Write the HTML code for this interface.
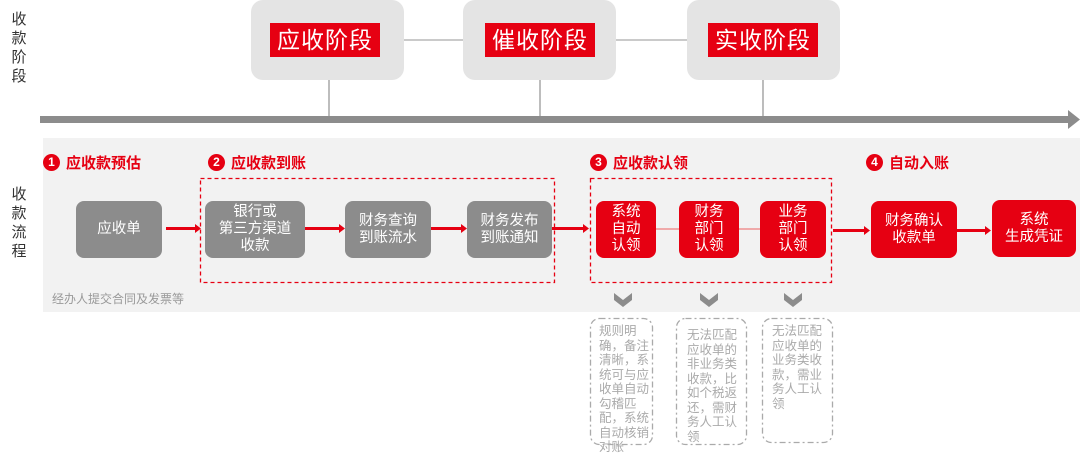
<!DOCTYPE html>
<html><head><meta charset="utf-8"><style>
*{margin:0;padding:0;box-sizing:border-box}
body{width:1080px;height:463px;background:#fff;position:relative;overflow:hidden;font-family:"Liberation Sans","Noto Sans CJK SC",sans-serif}
.a{position:absolute}
.stage{position:absolute;top:0;width:153px;height:80px;background:#e4e4e4;border-radius:12px}
.lab{position:absolute;top:23px;height:34px;width:110px;background:#e60012;color:#fff;font-size:23px;line-height:34px;text-align:center;letter-spacing:1px}
.n{position:absolute;display:flex;align-items:center;justify-content:center;text-align:center;color:#fff;font-size:14.5px;line-height:17px;border-radius:8px}
.g{background:#8c8c8c}
.r{background:#e60012}
.h{position:absolute;color:#e60012;font-weight:bold;font-size:15px;display:flex;align-items:center}
.h b{display:inline-block;width:17px;height:17px;border-radius:50%;background:#e60012;color:#fff;font-size:12px;line-height:17px;text-align:center;margin-right:6px}
.note{position:absolute;color:#aaa;font-size:12.5px;line-height:14.5px;white-space:nowrap}
.v{position:absolute;color:#333;font-size:15px;line-height:19px;width:20px;text-align:center}
</style></head><body>
<div class="a" style="left:43px;top:138px;width:1037px;height:174px;background:#f2f2f2"></div>
<svg class="a" style="left:0;top:0" width="1080" height="463">
<line x1="404" y1="40" x2="463" y2="40" stroke="#aaa" stroke-width="1.3"/>
<line x1="616" y1="40" x2="687" y2="40" stroke="#aaa" stroke-width="1.3"/>
<line x1="329" y1="80" x2="329" y2="116" stroke="#999" stroke-width="1.3"/>
<line x1="540" y1="80" x2="540" y2="116" stroke="#999" stroke-width="1.3"/>
<line x1="763" y1="80" x2="763" y2="116" stroke="#999" stroke-width="1.3"/>
<rect x="40" y="116" width="1032" height="7" fill="#8c8c8c"/>
<polygon points="1068,110 1080,119.5 1068,129" fill="#8c8c8c"/>
<rect x="200.5" y="178.5" width="354" height="104" fill="none" stroke="#e60012" stroke-width="1.3" stroke-dasharray="4,3"/>
<rect x="590.5" y="178.5" width="241" height="104" fill="none" stroke="#e60012" stroke-width="1.3" stroke-dasharray="4,3"/>
<g fill="#e60012">
<rect x="166" y="227" width="30" height="3"/><polygon points="195,224 201,228.5 195,233"/>
<rect x="305" y="227" width="35" height="3"/><polygon points="339,224 345,228.5 339,233"/>
<rect x="431" y="227" width="31" height="3"/><polygon points="461,224 467,228.5 461,233"/>
<rect x="552" y="227" width="32" height="3"/><polygon points="583,224 589,228.5 583,233"/>
<rect x="833" y="229" width="32" height="3"/><polygon points="864,226 870,230.5 864,235"/>
<rect x="957" y="229" width="29" height="3"/><polygon points="985,226 991,230.5 985,235"/>
</g>
<line x1="656" y1="229" x2="679" y2="229" stroke="#f08080" stroke-width="1.3"/>
<line x1="739" y1="229" x2="760" y2="229" stroke="#f08080" stroke-width="1.3"/>
<g fill="#8c8c8c">
<polygon points="614,293 623,300 632,293 632,300 623,307 614,300"/>
<polygon points="700,293 709,300 718,293 718,300 709,307 700,300"/>
<polygon points="784,293 793,300 802,293 802,300 793,307 784,300"/>
</g>
<g fill="none" stroke="#aaa" stroke-width="1.3" stroke-dasharray="6,3,2,3">
<rect x="590.5" y="318.5" width="62" height="126" rx="9"/>
<rect x="676.5" y="318.5" width="70" height="126" rx="9"/>
<rect x="762.5" y="318.5" width="70" height="124" rx="9"/>
</g>
</svg>
<div class="stage" style="left:251px"></div><div class="lab" style="left:270px">应收阶段</div>
<div class="stage" style="left:463px"></div><div class="lab" style="left:485px">催收阶段</div>
<div class="stage" style="left:687px"></div><div class="lab" style="left:708px">实收阶段</div>
<div class="v" style="left:9px;top:10px">收<br>款<br>阶<br>段</div>
<div class="v" style="left:9px;top:185px">收<br>款<br>流<br>程</div>
<div class="h" style="left:43px;top:152px"><b>1</b>应收款预估</div>
<div class="h" style="left:208px;top:152px"><b>2</b>应收款到账</div>
<div class="h" style="left:590px;top:152px"><b>3</b>应收款认领</div>
<div class="h" style="left:866px;top:152px"><b>4</b>自动入账</div>
<div class="n g" style="left:76px;top:201px;width:86px;height:57px">应收单</div>
<div class="n g" style="left:205px;top:201px;width:100px;height:57px">银行或<br>第三方渠道<br>收款</div>
<div class="n g" style="left:345px;top:201px;width:86px;height:57px">财务查询<br>到账流水</div>
<div class="n g" style="left:467px;top:201px;width:85px;height:57px">财务发布<br>到账通知</div>
<div class="n r" style="left:596px;top:201px;width:60px;height:57px">系统<br>自动<br>认领</div>
<div class="n r" style="left:679px;top:201px;width:60px;height:57px">财务<br>部门<br>认领</div>
<div class="n r" style="left:760px;top:201px;width:66px;height:57px">业务<br>部门<br>认领</div>
<div class="n r" style="left:871px;top:201px;width:86px;height:57px">财务确认<br>收款单</div>
<div class="n r" style="left:992px;top:200px;width:84px;height:57px">系统<br>生成凭证</div>
<div class="a" style="left:52px;top:290px;font-size:12px;color:#999">经办人提交合同及发票等</div>
<div class="note" style="left:599px;top:324px">规则明<br>确，备注<br>清晰，系<br>统可与应<br>收单自动<br>勾稽匹<br>配，系统<br>自动核销<br>对账</div>
<div class="note" style="left:687px;top:328px">无法匹配<br>应收单的<br>非业务类<br>收款，比<br>如个税返<br>还，需财<br>务人工认<br>领</div>
<div class="note" style="left:772px;top:324px">无法匹配<br>应收单的<br>业务类收<br>款，需业<br>务人工认<br>领</div>
</body></html>
